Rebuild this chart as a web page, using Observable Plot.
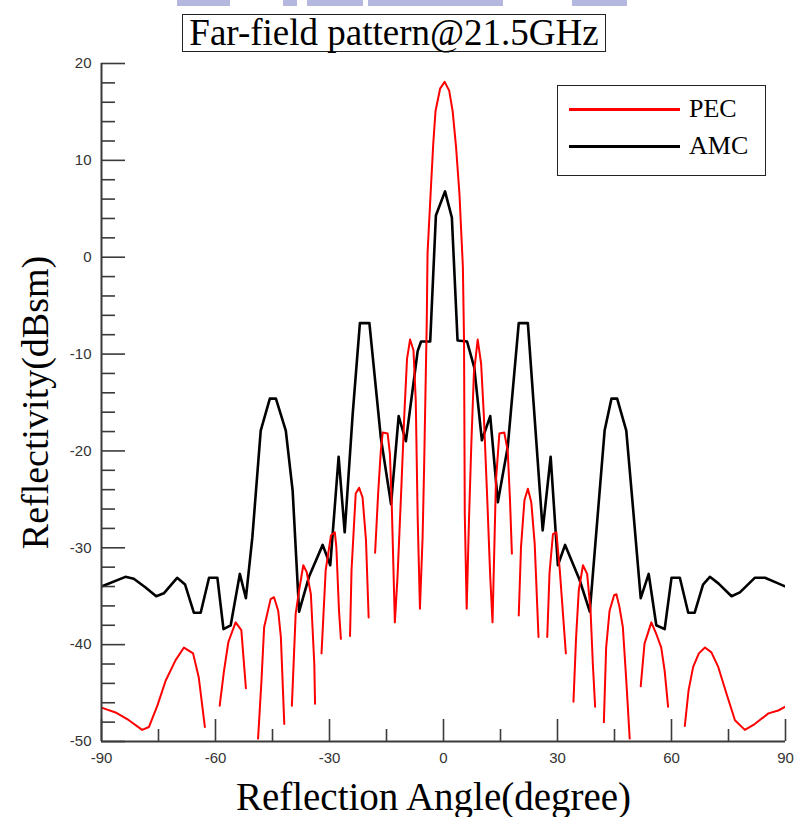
<!DOCTYPE html>
<html>
<head>
<meta charset="utf-8">
<script src="https://cdn.jsdelivr.net/npm/d3@7"></script>
<script src="https://cdn.jsdelivr.net/npm/@observablehq/plot@0.6"></script>
<style>
  body { margin: 0; background: #fff; }
  #wrap { position: relative; width: 797px; height: 817px; overflow: hidden; background: #fff; }
  #wrap svg { position: absolute; left: 0; top: 0; }
  .blob { position: absolute; top: 0; height: 6px; background: #b4b7de; }
  #title { position: absolute; left: 182px; top: 14px; width: 422px; height: 36px; border: 1px solid #222;
           text-align: center; color: #000; white-space: nowrap; }
  #legend { position: absolute; left: 557px; top: 85px; width: 207px; height: 89px; border: 1px solid #222; background: #fff; }
  .lg-row { position: absolute; left: 0; width: 100%; height: 30px; }
  .lg-line { position: absolute; left: 11px; width: 111px; top: 14px; height: 2.5px; }
  .lg-text { position: absolute; left: 131px; top: 0; font-size: 26px; line-height: 30px; color: #000; }
</style>
</head>
<body>
<div id="wrap"></div>
<script>
// ---- data ----
const titleText = "Far-field pattern@21.5GHz";
const xLabel = "Reflection Angle(degree)";
const yLabel = "Reflectivity(dBsm)";
const seriesNames = ["PEC", "AMC"];
const seriesColors = ["#ff0000", "#000000"];

// PEC: null marks a deep null that falls below the -50 dBsm axis floor (line is broken there)
const pecAngle = [-90,-86.3,-82.8,-79.3,-77.5,-75.3,-73.1,-70.5,-68.3,-65.9,-64.4,-62.8,-61,
  -58.9,-57.8,-56.6,-54.7,-53.2,-52.0,-50.5,
  -48.8,-47.9,-47.2,-45.5,-44.6,-43.5,-42.8,-41.9,-41.0,
  -39.9,-38.9,-38.0,-36.9,-36.0,-34.9,-34.0,-33.8,-33.0,
  -32.1,-31.0,-29.6,-28.6,-28.2,-27.5,-27.0,-25.8,
  -24.6,-24.2,-23.1,-22.2,-21.3,-20.4,-19.7,-18.9,
  -18.0,-17.2,-16.5,-16.0,-14.7,-14.1,-13.6,-12.8,-12.1,-11.2,-10.3,-9.6,-8.8,-7.9,-7.3,-6.8,-6.2,-5.5,-5.1,
  -4.4,-4.2,-3.4,-2.7,-2.1,-0.9,0.3,1.5,2.4,3.3,4.2,5.1,5.4,5.6,6.1,6.7,7.3,8.0,9.0,9.9,10.6,11.5,12.3,12.9,
  13.8,14.7,16.0,16.9,17.5,18.0,18.9,
  19.8,20.4,21.3,22.2,23.1,24.0,25.0,26.2,
  27.3,27.9,28.8,29.7,30.6,32.2,33.2,
  34.2,34.9,35.6,36.7,37.8,38.7,39.3,39.9,41.0,
  42.2,42.8,43.7,44.9,45.5,46.3,47.2,48.1,49.0,50.5,
  51.9,52.9,54.7,56.0,57.3,58.2,59.1,61.3,
  63.5,64.5,65.7,67.2,68.8,70.5,72.3,74.5,76.7,79.3,81.9,85.5,88.1,90];
const pecValue = [-46.5,-47.0,-47.8,-48.8,-48.5,-46.3,-43.7,-41.6,-40.3,-40.9,-43.4,-48.5,null,
  -46.3,-42.8,-39.7,-37.7,-38.5,-44.5,null,
  -49.7,-43.7,-38.2,-35.3,-35.1,-36.5,-39.2,-48.2,null,
  -46.3,-36.8,-34.4,-31.8,-32.5,-34.8,-42.0,-46.1,null,
  -40.9,-32.3,-28.7,-28.4,-29.9,-36.5,-39.4,null,
  -39.1,-32.3,-24.4,-23.8,-24.8,-29.2,-37.2,null,
  -30.5,-24.4,-20.0,-18.1,-18.2,-20.3,-25.8,-37.7,-33.0,-24.8,-16.2,-10.5,-8.5,-9.6,-14.8,-26.8,-36.3,-28.9,-21.7,
  -6.5,0.4,6.5,11.7,15.1,17.4,18.1,17.2,15.1,11.4,6.5,-1.0,-8.6,-26.5,-36.3,-27.2,-19.6,-12.0,-8.5,-11.0,-16.2,-24.8,-33.0,-37.7,
  -23.1,-18.2,-18.1,-20.0,-25.1,-30.6,null,
  -37.0,-29.9,-25.1,-23.9,-25.3,-29.6,-39.2,null,
  -39.2,-32.6,-28.6,-28.4,-32.3,-40.9,null,
  -45.9,-39.2,-34.4,-31.8,-32.7,-36.5,-42.0,-46.4,null,
  -48.0,-40.3,-36.5,-34.9,-34.8,-36.1,-38.2,-43.7,-49.7,null,
  -44.3,-39.9,-37.7,-38.9,-40.3,-42.7,-46.4,null,
  -48.4,-44.7,-42.3,-40.9,-40.3,-40.8,-42.3,-45.1,-47.8,-48.8,-48.2,-47.1,-46.8,-46.4];

const amcAngle = [-90,-83.7,-81.5,-78.4,-75.6,-73.6,-70.1,-68.0,-65.7,-63.9,-61.7,-59.5,-57.9,-56.0,-53.6,-52.0,-50.3,-48.1,
  -45.7,-44.1,-41.5,-39.7,-38.0,-35.4,-31.8,-29.8,-27.6,-26.0,-23.9,-22.0,-19.5,-16.5,-13.8,-11.8,-9.9,-6.8,-5.9,-3.5,
  -2.0,0.4,2.2,3.7,6.2,8.1,10.1,12.3,14.3,16.9,19.8,22.2,26.1,28.2,30.1,32.0,35.8,38.5,42.4,44.2,45.7,48.1,49.9,
  51.9,54.0,56.0,58.2,60.0,62.2,64.4,66.1,68.3,70.1,72.4,75.8,78.0,81.9,84.6,87.6,90];
const amcValue = [-34.0,-33.0,-33.2,-34.1,-35.0,-34.7,-33.1,-33.8,-36.7,-36.7,-33.1,-33.1,-38.4,-38.0,-32.7,-35.2,-28.9,-17.9,
  -14.6,-14.6,-17.9,-24.1,-36.6,-33.0,-29.7,-31.8,-20.6,-28.4,-16.2,-6.8,-6.8,-18.6,-25.5,-16.4,-19.0,-9.7,-8.7,-8.7,
  4.3,6.8,4.1,-8.6,-8.7,-11.4,-18.9,-16.4,-25.3,-19.6,-6.8,-6.8,-28.2,-20.6,-31.8,-29.7,-33.3,-36.6,-17.9,-14.6,-14.6,-17.9,-26.0,
  -35.2,-32.7,-38.0,-38.4,-33.1,-33.1,-36.7,-36.7,-33.8,-33.0,-33.7,-35.0,-34.6,-33.1,-33.1,-33.6,-34.0];

const xTicks = [-90, -60, -30, 0, 30, 60, 90];
const xMinorTicks = [-75, -45, -15, 15, 45, 75];
const yTicks = [20, 10, 0, -10, -20, -30, -40, -50];
const yMinorTicks = [18,16,14,12, 8,6,4,2, -2,-4,-6,-8, -12,-14,-16,-18, -22,-24,-26,-28, -32,-34,-36,-38, -42,-44,-46,-48];

// ---- build ----
const W = 797, H = 817;
const mL = 101, mR = 12, mT = 63, mB = 76;
const fw = W - mL - mR, fh = H - mT - mB;

const pec = pecAngle.map((a, i) => ({angle: a, value: pecValue[i]}));
const amc = amcAngle.map((a, i) => ({angle: a, value: amcValue[i]}));

const sans = "'Liberation Sans', Arial, sans-serif";
const serif = "'Liberation Serif', 'Times New Roman', serif";
const axisColor = "#3a3a3a";

const chart = Plot.plot({
  width: W, height: H,
  marginLeft: mL, marginRight: mR, marginTop: mT, marginBottom: mB,
  style: {background: "transparent"},
  x: {domain: [-90, 90]},
  y: {domain: [-50, 20]},
  marks: [
    Plot.line(amc, {x: "angle", y: "value", stroke: seriesColors[1], strokeWidth: 2.6, clip: true}),
    Plot.line(pec, {x: "angle", y: "value", stroke: seriesColors[0], strokeWidth: 2, clip: true}),
    // inward ticks
    Plot.tickY(yTicks, {y: d => d, insetRight: fw - 24, stroke: axisColor, strokeWidth: 1.6}),
    Plot.tickY(yMinorTicks, {y: d => d, insetRight: fw - 14, stroke: axisColor, strokeWidth: 1.6}),
    Plot.tickX(xTicks, {x: d => d, insetTop: fh - 22, stroke: axisColor, strokeWidth: 1.6}),
    Plot.tickX(xMinorTicks, {x: d => d, insetTop: fh - 12, stroke: axisColor, strokeWidth: 1.6}),
    // axis lines
    Plot.ruleX([-90], {stroke: axisColor, strokeWidth: 2}),
    Plot.ruleY([-50], {stroke: axisColor, strokeWidth: 2}),
    // tick labels
    Plot.axisX(xTicks, {tickSize: 0, tickPadding: 11, tickFormat: d => String(d), label: null,
      fontSize: 15, fontFamily: sans, fill: "#333"}),
    Plot.axisY(yTicks, {tickSize: 0, tickPadding: 10, tickFormat: d => String(d), label: null,
      fontSize: 15, fontFamily: sans, fill: "#333"}),
    // axis titles
    Plot.text([xLabel], {frameAnchor: "bottom", lineAnchor: "middle", textAnchor: "middle", dx: -10, dy: 56,
      fontSize: 39, fontFamily: serif, fill: "#000"}),
    Plot.text([yLabel], {frameAnchor: "left", lineAnchor: "middle", textAnchor: "middle", dx: -66, rotate: -90,
      fontSize: 38, fontFamily: serif, fill: "#000"})
  ]
});

const wrap = document.getElementById("wrap");
wrap.appendChild(chart);

// scan artefact strip at the very top
[[177, 53], [283, 14], [307, 56], [368, 135], [572, 55]].forEach(([l, w]) => {
  const b = document.createElement("div");
  b.className = "blob";
  b.style.left = l + "px"; b.style.width = w + "px";
  wrap.appendChild(b);
});

const title = document.createElement("div");
title.id = "title";
title.textContent = titleText;
title.style.fontFamily = serif;
title.style.fontSize = "37px";
title.style.lineHeight = "36px";
wrap.appendChild(title);

const legend = document.createElement("div");
legend.id = "legend";
seriesNames.forEach((name, i) => {
  const row = document.createElement("div");
  row.className = "lg-row";
  row.style.top = (8 + i * 37) + "px";
  const ln = document.createElement("div");
  ln.className = "lg-line";
  ln.style.background = seriesColors[i];
  const tx = document.createElement("div");
  tx.className = "lg-text";
  tx.style.fontFamily = serif;
  tx.textContent = name;
  row.appendChild(ln); row.appendChild(tx);
  legend.appendChild(row);
});
wrap.appendChild(legend);
</script>
</body>
</html>
